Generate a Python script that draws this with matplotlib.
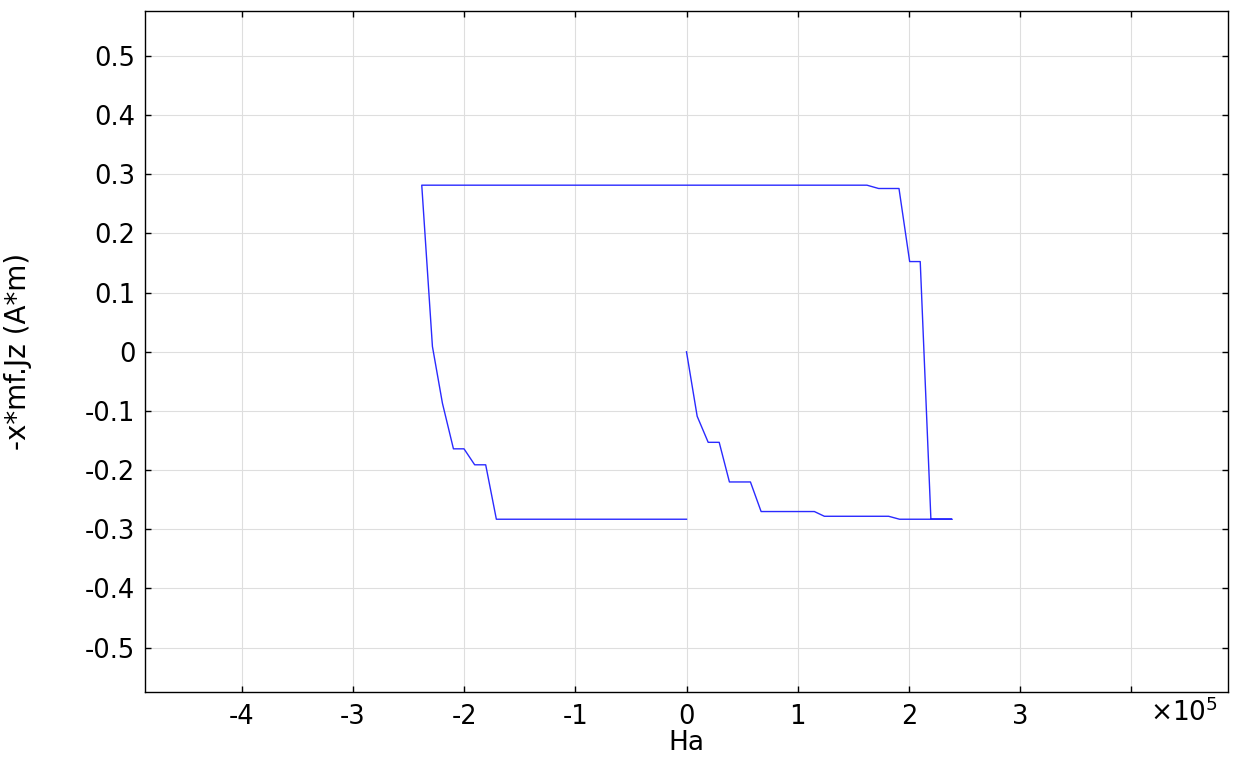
import matplotlib
matplotlib.use('Agg')
import matplotlib.pyplot as plt
import numpy as np

plt.rcParams['font.family'] = ['DejaVu Sans']
plt.rcParams['mathtext.fontset'] = 'dejavusans'

# Ha values (in units of 1e5) and -x*mf.Jz
ha = [0.0, 0.096, 0.195, 0.294, 0.386, 0.575, 0.671, 1.150, 1.240, 1.818, 1.916, 2.387,
      2.387, 2.198, 2.102, 2.007, 1.911, 1.728, 1.623, 0.0, -1.0, -2.381,
      -2.285, -2.195, -2.096, -2.001, -1.905, -1.806, -1.710, -1.0, 0.0]
jz = [0.0, -0.109, -0.153, -0.153, -0.220, -0.220, -0.270, -0.270, -0.278, -0.278, -0.283, -0.283,
      -0.283, -0.283, 0.1525, 0.1525, 0.276, 0.276, 0.2816, 0.2816, 0.2816, 0.2816,
      0.009, -0.087, -0.164, -0.164, -0.191, -0.191, -0.283, -0.283, -0.283]

xticks = [-4, -3, -2, -1, 0, 1, 2, 3, 4]
xticklabels = ['-4', '-3', '-2', '-1', '0', '1', '2', '3', '']
yticks = [-0.5, -0.4, -0.3, -0.2, -0.1, 0, 0.1, 0.2, 0.3, 0.4, 0.5]
yticklabels = ['-0.5', '-0.4', '-0.3', '-0.2', '-0.1', '0', '0.1', '0.2', '0.3', '0.4', '0.5']

fig = plt.figure(figsize=(12.4, 7.6), dpi=100)
fig.set_facecolor('white')
ax = fig.add_axes([145 / 1240, 68 / 760, 1083 / 1240, 681 / 760])

ax.plot(ha, jz, color='#2a2aff', linewidth=1.0)

ax.set_xlim(-4.87, 4.87)
ax.set_ylim(-0.575, 0.576)
ax.set_xticks(xticks)
ax.set_xticklabels(xticklabels)
ax.set_yticks(yticks)
ax.set_yticklabels(yticklabels)
ax.tick_params(direction='in', length=4, width=1, top=True, right=True,
               labelsize=18.5)
ax.tick_params(axis='y', pad=7)
ax.tick_params(axis='x', pad=9)
ax.grid(True, color='#dedede', linewidth=0.8)
for s in ax.spines.values():
    s.set_linewidth(1.0)

ax.set_xlabel('Ha', fontsize=19, labelpad=0)
ax.set_ylabel('-x*mf.Jz (A*m)', fontsize=20)
ax.yaxis.set_label_coords(-113 / 1083, 0.5)

fig.text(1150 / 1240, 1 - 713 / 760, r'$\times 10^5$', fontsize=19, va='center', ha='left')

fig.savefig('out.png', dpi=100)
